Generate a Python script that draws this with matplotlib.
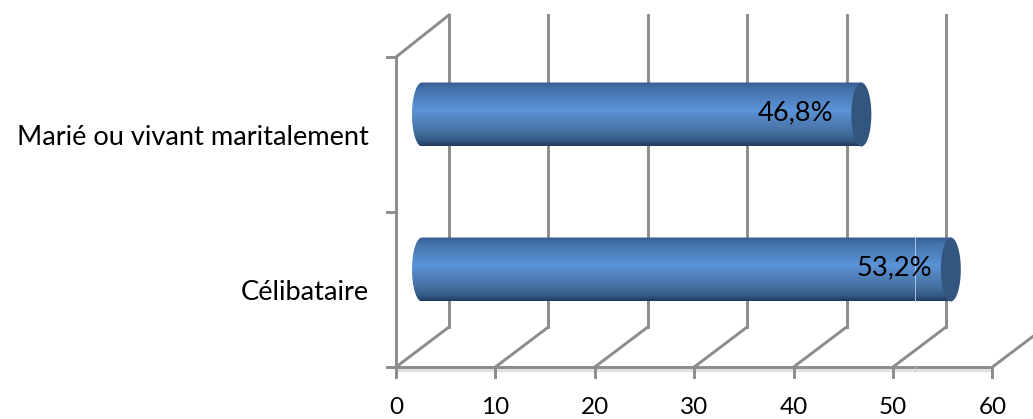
import matplotlib
matplotlib.use('Agg')
import matplotlib.pyplot as plt
import numpy as np
from matplotlib.colors import LinearSegmentedColormap
from matplotlib.patches import PathPatch, Ellipse
from matplotlib.path import Path

categories = ['Célibataire', 'Marié ou vivant maritalement']
bar_values = [53.2, 44.2]
bar_labels = ['53,2%', '46,8%']
x_ticks = [0, 10, 20, 30, 40, 50, 60]

W, H = 1033, 419
px_x = 9.94   # pixels for one x unit
px_y = 155.0  # pixels for one category band
x0_px, y0_px = 396.0, 367.0

fig = plt.figure(figsize=(W / 100, H / 100), dpi=100)
ax = fig.add_axes([0, 0, 1, 1])
ax.axis('off')

font = 'Lato'
fsize = 19.6
tick_size = 17.5
grey = '#8c8c8c'
lw = 2.1
n_cat = len(categories)

# 3d box offsets
back_dx = 53 / px_x
back_dy = 40 / px_y
mid_dx = 26 / px_x
mid_dy = 20 / px_y
top = 2 + 42 / px_y

# label shift left of the bar end, in pixels
label_shift = [56, 66]

# soft shadow under the floor line
ax.plot([0, x_ticks[-1]], [-3 / px_y, -3 / px_y], color='#e2e2e2', lw=2.5, zorder=1)

# back wall grid + floor lines
for v in x_ticks:
    if v < x_ticks[-1]:
        ax.plot([v + back_dx, v + back_dx], [back_dy, top], color=grey, lw=lw, zorder=2)
    ax.plot([v, v + back_dx], [0, back_dy], color=grey, lw=lw, zorder=2)
    ax.plot([v, v], [0, -10 / px_y], color=grey, lw=lw, zorder=2)
    ax.text(v, -47 / px_y, str(v), ha='center', va='baseline', fontsize=tick_size,
            family=font, color='black')

# side wall + axis lines
ax.plot([0, 0], [0, 2], color=grey, lw=lw, zorder=2)
ax.plot([0, back_dx], [2, top], color=grey, lw=lw, zorder=2)
ax.plot([-9 / px_x, x_ticks[-1]], [0, 0], color=grey, lw=lw, zorder=2)
for c in range(1, n_cat + 1):
    ax.plot([-9 / px_x, 0], [c, c], color=grey, lw=lw, zorder=2)

bar_cmap = LinearSegmentedColormap.from_list('cyl', [
    (0.0, '#335b8e'), (0.12, '#4472ab'), (0.45, '#5b94d8'), (0.55, '#5688c6'),
    (0.80, '#446f9f'), (0.93, '#325680'), (1.0, '#203b5e')])
grad = np.linspace(0, 1, 128).reshape(-1, 1)
half_h = 32 / px_y
cap = 10 / px_x

for i, (val, lab, name) in enumerate(zip(bar_values, bar_labels, categories)):
    yc = i + 0.5 + mid_dy
    xa = mid_dx
    xb = val + mid_dx
    # body outline with elliptic left end
    t = np.linspace(np.pi / 2, 3 * np.pi / 2, 40)
    left = np.column_stack([xa + cap * np.cos(t), yc + half_h * np.sin(t)])
    verts = np.vstack([left, [[xb, yc - half_h], [xb, yc + half_h], left[0]]])
    body = PathPatch(Path(verts), fc='none', ec='none', zorder=3)
    ax.add_patch(body)
    im = ax.imshow(grad, cmap=bar_cmap, extent=[xa - cap, xb, yc - half_h, yc + half_h],
                   aspect='auto', zorder=3, interpolation='bilinear')
    im.set_clip_path(body)
    # right end of the cylinder
    ax.add_patch(Ellipse((xb, yc), 2 * cap, 2 * half_h, fc='#325680', ec='none', zorder=4))
    ax.text(xb - label_shift[i] / px_x, yc + 2 / px_y, lab, ha='center', va='center',
            fontsize=fsize, family=font, color='black', zorder=6)
    ax.text(-27 / px_x, i + 0.5 - 0.02, name, ha='right', va='center', fontsize=fsize,
            family=font, color='black')

# thin pale line left over across the lower bar and the floor
seam = bar_values[0] - 1.0
ax.plot([seam, seam], [0.5 + mid_dy - half_h, 0.5 + mid_dy + half_h], color='#a9c4e4', lw=0.7, zorder=5)
ax.plot([seam, seam], [-5 / px_y, 2 / px_y], color='#c8c8c8', lw=0.7, zorder=5)

ax.set_xlim(-x0_px / px_x, (W - x0_px) / px_x)
ax.set_ylim((y0_px - H) / px_y, y0_px / px_y)
fig.savefig('out.png', dpi=100)
